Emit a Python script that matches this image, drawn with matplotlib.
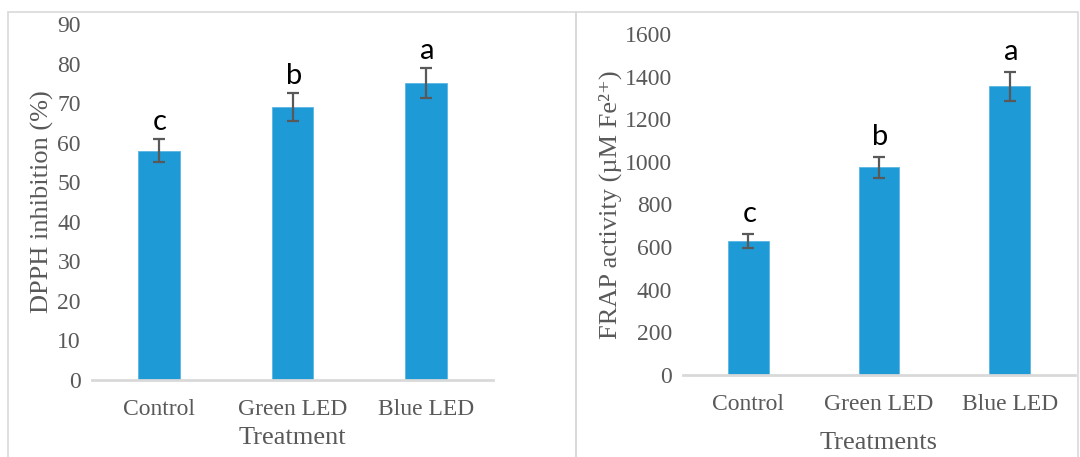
import matplotlib
matplotlib.use("Agg")
import matplotlib.pyplot as plt
from matplotlib.patches import Rectangle

treatments = ["Control", "Green LED", "Blue LED"]
dpph = [58, 69, 75]
dpph_err = [3.0, 3.5, 3.8]
frap = [630, 975, 1355]
frap_err = [33, 50, 68]
letters = ["c", "b", "a"]

bar_color = "#1e9ad6"
text_gray = "#595959"
line_gray = "#d9d9d9"

plt.rcParams["font.family"] = ["Liberation Serif", "DejaVu Serif"]

fig = plt.figure(figsize=(10.8, 4.57), dpi=100)

# chart frames
for x0, w in [(8 / 1080, 568 / 1080), (576 / 1080, 502 / 1080)]:
    fig.patches.append(Rectangle((x0, -0.05), w, 1.05 - 12 / 457, transform=fig.transFigure,
                                 fill=False, edgecolor=line_gray, linewidth=1.2))


def panel(rect, values, errs, ymax, step, ylabel, xlabel, tick_pad, xlabel_pad, letter_pad):
    ax = fig.add_axes(rect)
    x = range(len(treatments))
    ax.bar(x, values, width=0.31, color=bar_color, edgecolor="#5bb6e3", linewidth=0.6,
           yerr=errs, capsize=4.5, error_kw=dict(ecolor=text_gray, elinewidth=1.6, capthick=1.6))
    for i, (v, e, l) in enumerate(zip(values, errs, letters)):
        ax.annotate(l, (i, v + e), xytext=(1, letter_pad), textcoords="offset points",
                    ha="center", va="bottom", fontsize=21, family="Lato")
    ax.set_xlim(-0.5, 2.5)
    ax.set_ylim(0, ymax)
    ax.set_yticks(range(0, ymax + 1, step))
    ax.set_xticks(list(x))
    ax.set_xticklabels(treatments)
    for s in ["top", "right", "left"]:
        ax.spines[s].set_visible(False)
    ax.spines["bottom"].set_color(line_gray)
    ax.spines["bottom"].set_linewidth(2)
    ax.tick_params(axis="both", length=0, labelsize=17, labelcolor=text_gray)
    ax.tick_params(axis="x", pad=tick_pad)
    ax.tick_params(axis="y", pad=8)
    ax.set_ylabel(ylabel, fontsize=19, color=text_gray, labelpad=2)
    ax.set_xlabel(xlabel, fontsize=19, color=text_gray, labelpad=xlabel_pad)
    return ax


panel([92 / 1080, 77 / 457, 401 / 1080, 356 / 457], dpph, dpph_err, 90, 10,
      "DPPH inhibition (%)", "Treatment", 14, 5, 3)
panel([683 / 1080, 82 / 457, 392 / 1080, 341 / 457], frap, frap_err, 1600, 200,
      "FRAP activity (µM Fe²⁺)", "Treatments", 14, 12, 5)

fig.savefig("out.png", dpi=100)
